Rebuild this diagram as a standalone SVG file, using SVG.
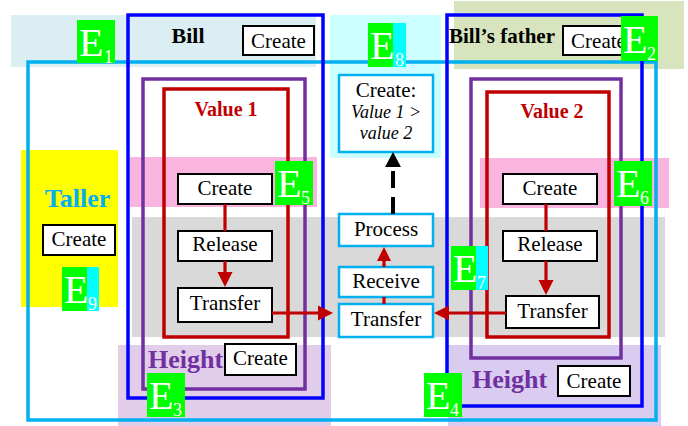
<svg xmlns="http://www.w3.org/2000/svg" width="688" height="426" viewBox="0 0 688 426">
<rect width="688" height="426" fill="#fff"/>
<g id="bands">
<rect x="11" y="15" width="305" height="52" fill="#daeef3"/>
<rect x="454" y="1" width="230" height="68" fill="#d7e4bd"/>
<rect x="330" y="15" width="111" height="143" fill="#ccffff"/>
<rect x="21" y="150" width="97" height="157" fill="#ffff00"/>
<rect x="130" y="157" width="187" height="50" fill="#f9b4df"/>
<rect x="480" y="158" width="189" height="50" fill="#f9b4df"/>
<rect x="132" y="217" width="533" height="120" fill="#d9d9d9"/>
<rect x="118" y="345" width="213" height="81" fill="#e1ccea"/>
<rect x="448" y="345" width="213" height="81" fill="#d9ccf0"/>
</g>
<g id="taller">
<rect x="28" y="62" width="628" height="358" fill="none" stroke="#00b0f0" stroke-width="3.5"/>
<text font-family="Liberation Serif" font-weight="bold" x="77.5" y="207" font-size="26" text-anchor="middle" fill="#00b0f0">Taller</text>
<rect x="43" y="225" width="72" height="30" fill="#fff" stroke="#000" stroke-width="2"/>
<text font-family="Liberation Serif" font-size="21" text-anchor="middle" x="79" y="246">Create</text>
</g>
<g id="bill">
<rect x="128" y="15" width="195" height="383" fill="none" stroke="#0000ff" stroke-width="3.5"/>
<text font-family="Liberation Serif" font-weight="bold" x="188" y="43" font-size="22" text-anchor="middle">Bill</text>
<rect x="243" y="26" width="71" height="29" fill="#fff" stroke="#000" stroke-width="2"/>
<text font-family="Liberation Serif" font-size="21" text-anchor="middle" x="278.5" y="48">Create</text>
</g>
<g id="bill-father">
<rect x="447" y="15" width="195" height="391" fill="none" stroke="#0000ff" stroke-width="3.5"/>
<text font-family="Liberation Serif" font-weight="bold" x="449" y="43" font-size="21">Bill&#8217;s father</text>
<rect x="563" y="26" width="71" height="29" fill="#fff" stroke="#000" stroke-width="2"/>
<text font-family="Liberation Serif" font-size="21" text-anchor="middle" x="598.5" y="48">Create</text>
</g>
<g id="height1">
<rect x="143" y="79" width="162" height="310" fill="none" stroke="#7030a0" stroke-width="3.5"/>
<text font-family="Liberation Serif" font-weight="bold" x="148" y="368" font-size="26" fill="#7030a0">Height</text>
<rect x="225" y="344" width="71" height="31" fill="#fff" stroke="#000" stroke-width="2"/>
<text font-family="Liberation Serif" font-size="21" text-anchor="middle" x="260.5" y="365">Create</text>
</g>
<g id="height2">
<rect x="471" y="79" width="150" height="279" fill="none" stroke="#7030a0" stroke-width="3.5"/>
<text font-family="Liberation Serif" font-weight="bold" x="472" y="388" font-size="26" fill="#7030a0">Height</text>
<rect x="558" y="366" width="72" height="30" fill="#fff" stroke="#000" stroke-width="2"/>
<text font-family="Liberation Serif" font-size="21" text-anchor="middle" x="594" y="388">Create</text>
</g>
<g id="value1">
<rect x="164" y="89" width="124" height="248" fill="none" stroke="#c00000" stroke-width="3.5"/>
<text font-family="Liberation Serif" font-weight="bold" x="226" y="116" font-size="20" text-anchor="middle" fill="#c00000">Value 1</text>
</g>
<g id="value2">
<rect x="487" y="92" width="122" height="245" fill="none" stroke="#c00000" stroke-width="3.5"/>
<text font-family="Liberation Serif" font-weight="bold" x="552" y="118" font-size="20" text-anchor="middle" fill="#c00000">Value 2</text>
</g>
<g id="create1"><rect x="178" y="174" width="94" height="30" fill="#fff" stroke="#000" stroke-width="2"/><text font-family="Liberation Serif" font-size="21" text-anchor="middle" x="225" y="195">Create</text></g>
<g id="release1"><rect x="178" y="231" width="94" height="30" fill="#fff" stroke="#000" stroke-width="2"/><text font-family="Liberation Serif" font-size="21" text-anchor="middle" x="225" y="251">Release</text></g>
<g id="transfer1"><rect x="178" y="288" width="94" height="34" fill="#fff" stroke="#000" stroke-width="2"/><text font-family="Liberation Serif" font-size="21" text-anchor="middle" x="225" y="310">Transfer</text></g>
<g id="create2"><rect x="503" y="174" width="94" height="30" fill="#fff" stroke="#000" stroke-width="2"/><text font-family="Liberation Serif" font-size="21" text-anchor="middle" x="550" y="195">Create</text></g>
<g id="release2"><rect x="503" y="231" width="94" height="30" fill="#fff" stroke="#000" stroke-width="2"/><text font-family="Liberation Serif" font-size="21" text-anchor="middle" x="550" y="251">Release</text></g>
<g id="transfer2"><rect x="506" y="296" width="93" height="32" fill="#fff" stroke="#000" stroke-width="2"/><text font-family="Liberation Serif" font-size="21" text-anchor="middle" x="552.5" y="318">Transfer</text></g>
<g id="create-compare"><rect x="339" y="75" width="94" height="77" fill="#fff" stroke="#00b0f0" stroke-width="2.5"/>
<text font-family="Liberation Serif" font-size="21" text-anchor="middle" x="386" y="97">Create:</text>
<text font-family="Liberation Serif" font-size="18" font-style="italic" text-anchor="middle" x="386" y="118">Value 1 &gt;</text>
<text font-family="Liberation Serif" font-size="18" font-style="italic" text-anchor="middle" x="386" y="139">value 2</text></g>
<g id="process"><rect x="339" y="214" width="94" height="32" fill="#fff" stroke="#00b0f0" stroke-width="2.5"/><text font-family="Liberation Serif" font-size="21" text-anchor="middle" x="386" y="236">Process</text></g>
<g id="receive"><rect x="339" y="267" width="94" height="30" fill="#fff" stroke="#00b0f0" stroke-width="2.5"/><text font-family="Liberation Serif" font-size="21" text-anchor="middle" x="386" y="288">Receive</text></g>
<g id="transfer"><rect x="339" y="304" width="94" height="33" fill="#fff" stroke="#00b0f0" stroke-width="2.5"/><text font-family="Liberation Serif" font-size="21" text-anchor="middle" x="386" y="326">Transfer</text></g>
<g id="connectors" stroke="#c00000" stroke-width="3.2">
<line x1="225" y1="204" x2="225" y2="231"/>
<line x1="225" y1="261" x2="225" y2="274"/>
<polygon fill="#c00000" stroke="none" points="225,287 217.5,272 232.5,272"/>
<line x1="546" y1="204" x2="546" y2="231"/>
<line x1="546" y1="261" x2="546" y2="281"/>
<polygon fill="#c00000" stroke="none" points="546,295 538.5,280 553.5,280"/>
<line x1="272" y1="313" x2="320" y2="313"/>
<polygon fill="#c00000" stroke="none" points="333,313 318,305.5 318,320.5"/>
<line x1="506" y1="313" x2="447" y2="313"/>
<polygon fill="#c00000" stroke="none" points="434,313 449,305.5 449,320.5"/>
<line x1="384" y1="304" x2="384" y2="297"/>
<line x1="384" y1="267" x2="384" y2="259"/>
<polygon fill="#c00000" stroke="none" points="384,247 377,261 391,261"/>
<line x1="393" y1="214" x2="393" y2="167" stroke="#000" stroke-width="4" stroke-dasharray="17,9"/>
<polygon points="393,152 385,167 401,167" fill="#000" stroke="none"/>
</g>
<g id="badges" fill="#fff">
<g id="E1"><rect fill="#00ff00" x="77" y="20" width="38" height="43"/><text font-family="Liberation Serif" font-size="40" x="79" y="56">E</text><text font-family="Liberation Serif" font-size="18" x="104" y="63">1</text></g>
<g id="E2"><rect fill="#00ff00" x="621" y="16" width="37" height="45"/><text font-family="Liberation Serif" font-size="40" x="623" y="53">E</text><text font-family="Liberation Serif" font-size="18" x="647" y="60">2</text></g>
<g id="E3"><rect fill="#00ff00" x="147" y="373" width="38" height="44"/><text font-family="Liberation Serif" font-size="40" x="149" y="409">E</text><text font-family="Liberation Serif" font-size="18" x="173" y="416">3</text></g>
<g id="E4"><rect fill="#00ff00" x="424" y="373" width="38" height="44"/><text font-family="Liberation Serif" font-size="40" x="426" y="409">E</text><text font-family="Liberation Serif" font-size="18" x="450" y="416">4</text></g>
<g id="E5"><rect fill="#00ff00" x="275" y="161" width="38" height="44"/><text font-family="Liberation Serif" font-size="40" x="277" y="197">E</text><text font-family="Liberation Serif" font-size="18" x="301" y="204">5</text></g>
<g id="E6"><rect fill="#00ff00" x="614" y="161" width="38" height="45"/><text font-family="Liberation Serif" font-size="40" x="616" y="197">E</text><text font-family="Liberation Serif" font-size="18" x="640" y="204">6</text></g>
<g id="E7"><rect fill="#00ff00" x="451" y="246" width="25" height="44"/><rect fill="#00ffff" x="476" y="246" width="12" height="44"/><text font-family="Liberation Serif" font-size="40" x="453" y="282">E</text><text font-family="Liberation Serif" font-size="18" x="477" y="289">7</text></g>
<g id="E8"><rect fill="#00ff00" x="368" y="23" width="25" height="44"/><rect fill="#00ffff" x="393" y="23" width="13" height="44"/><text font-family="Liberation Serif" font-size="40" x="370" y="59">E</text><text font-family="Liberation Serif" font-size="18" x="395" y="66">8</text></g>
<g id="E9"><rect fill="#00ff00" x="62" y="267" width="25" height="44"/><rect fill="#00ffff" x="87" y="267" width="12" height="44"/><text font-family="Liberation Serif" font-size="40" x="64" y="303">E</text><text font-family="Liberation Serif" font-size="18" x="88" y="310">9</text></g>
</g>
</svg>
